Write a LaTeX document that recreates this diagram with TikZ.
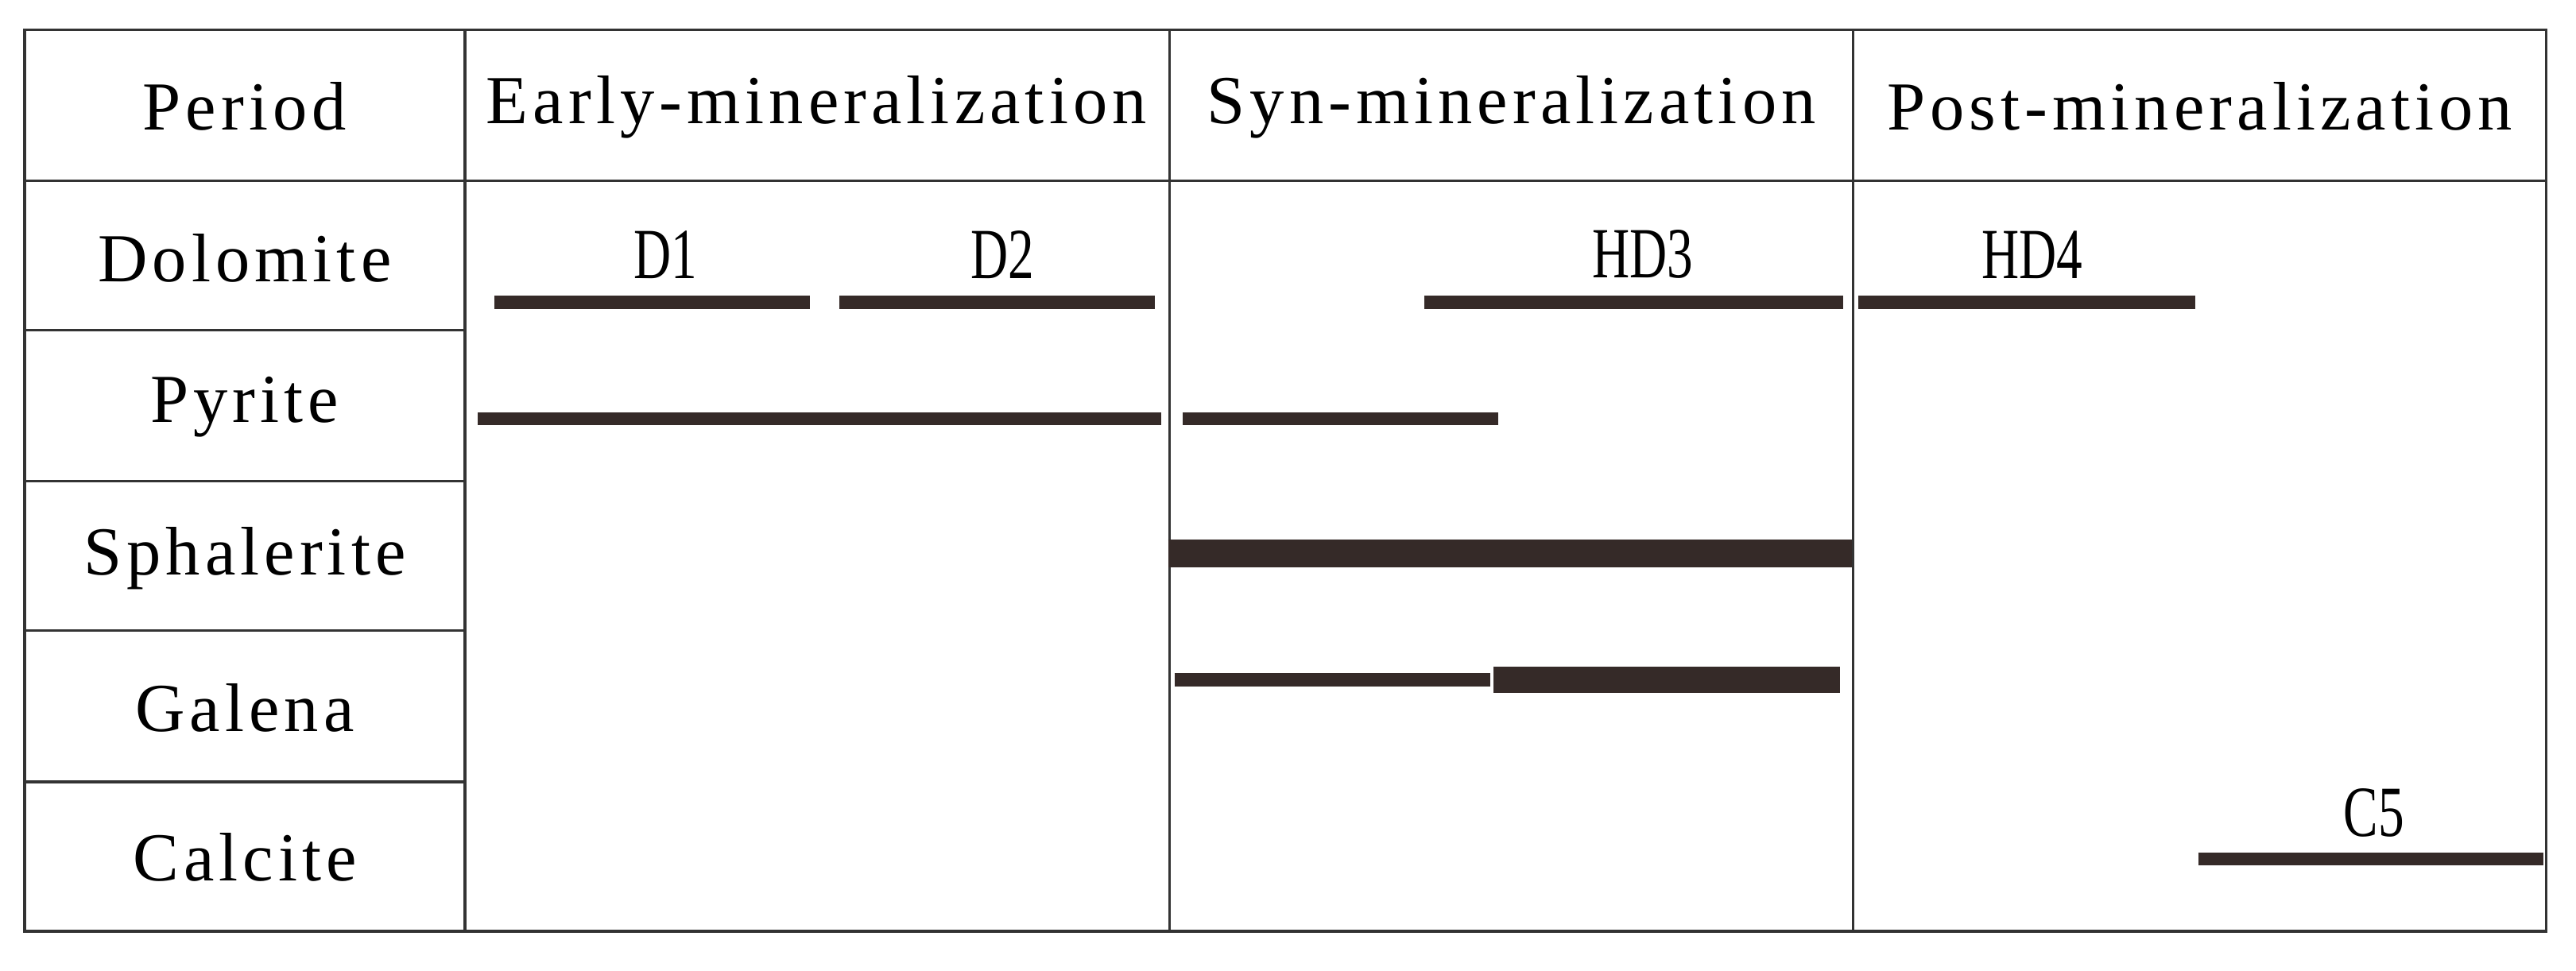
\documentclass[tikz,border=0pt]{standalone}
\usepackage{fontspec}
\setmainfont{Liberation Serif}
\newfontfamily\spaced[LetterSpace=7]{Liberation Serif}
\begin{document}
\begin{tikzpicture}[x=1bp,y=-1bp,
  grid/.style={line width=1.6bp,draw=black!80},
  bar/.style={line width=8bp,draw=barc},
  thickbar/.style={line width=17bp,draw=barc},
  hd/.style={font=\spaced\fontsize{42}{44}\selectfont,inner sep=0pt},
  lb/.style={font=\fontsize{44}{48}\selectfont,inner sep=0pt,xscale=0.72,transform shape}]
\definecolor{barc}{HTML}{352A28}
\useasboundingbox (0,0) rectangle (1568,591);
\draw[grid] (15,18) rectangle (1550,567);
\foreach \x in {283,712,1128} \draw[grid] (\x,18) -- (\x,567);
\draw[grid] (15,110) -- (1550,110);
\foreach \y in {201,293,384,476} \draw[grid] (15,\y) -- (283,\y);
\node[hd] (p) at (149,65) {Period};
\node[hd] (e) at (497,65) {Early-mineralization};
\node[hd] (s) at (920,65) {Syn-mineralization};
\node[hd] (o) at (1339,65) {Post-mineralization};
\node[hd] (r1) at (149,157) {Dolomite};
\node[hd] (r2) at (149,248) {Pyrite};
\node[hd] (r3) at (149,340) {Sphalerite};
\node[hd] (r4) at (149,431) {Galena};
\node[hd] (r5) at (149,522) {Calcite};
\draw[bar] (301,184) -- (493,184);
\draw[bar] (511,184) -- (703,184);
\draw[bar] (867,184) -- (1122,184);
\draw[bar] (1131,184) -- (1336,184);
\draw[bar] (291,255) -- (707,255);
\draw[bar] (720,255) -- (912,255);
\draw[thickbar] (711,337) -- (1127,337);
\draw[bar] (715,414) -- (907,414);
\draw[line width=16bp,draw=barc] (909,414) -- (1120,414);
\draw[bar] (1338,523) -- (1548,523);
\node[lb] (d1) at (405,155) {D1};
\node[lb] (d2) at (610,155) {D2};
\node[lb] (d3) at (1000,155) {HD3};
\node[lb] (d4) at (1237,155) {HD4};
\node[lb] (c5) at (1445,495) {C5};
\end{tikzpicture}
\end{document}
